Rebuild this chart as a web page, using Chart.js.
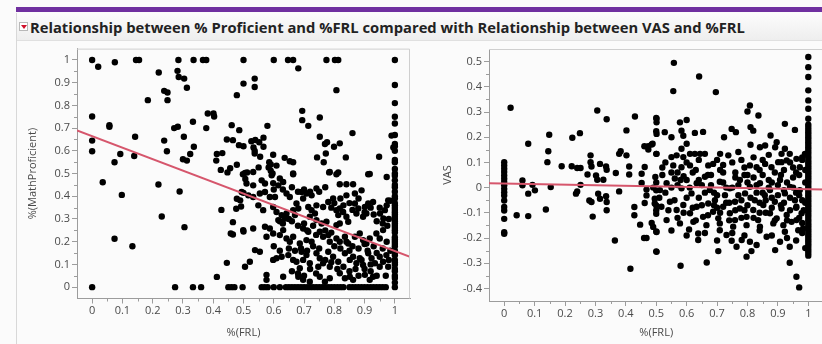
<!DOCTYPE html>
<html>
<head>
<meta charset="utf-8">
<script src="https://cdn.jsdelivr.net/npm/chart.js@4.4.1/dist/chart.umd.min.js"></script>
<style>
  html, body { margin:0; padding:0; background:#fbfbfb; width:822px; height:344px; overflow:hidden; position:relative; font-family:"Open Sans", sans-serif; }
  #purple { position:absolute; left:16px; top:7px; width:806px; height:5px; background:#7030a0; }
  #header { position:absolute; left:16px; top:13px; width:806px; height:27px; background:linear-gradient(#fcfcfc,#eeeeee); border-bottom:1px solid #e0e0e0; }
  #panelLine { position:absolute; left:16px; top:13px; width:1px; height:331px; background:#d8d8d8; }
  #icon { position:absolute; left:19px; top:22px; width:9px; height:9px; background:#fff; border:1px solid #b8b8b8; box-sizing:border-box; }
  #icon:after { content:""; position:absolute; left:1px; top:2px; border-left:3px solid transparent; border-right:3px solid transparent; border-top:4px solid #d0102a; }
  #title { position:absolute; left:30px; top:17px; white-space:nowrap; font-weight:bold; color:#222; font-family:"Open Sans", sans-serif; font-size:13px; line-height:20px; }
  canvas { position:absolute; }
  #c1 { left:15px; top:40px; }
  #c2 { left:430px; top:40px; }
</style>
</head>
<body>
<div id="purple"></div>
<div id="header"></div>
<div id="panelLine"></div>
<div id="icon"></div>
<div id="title"></div>
<canvas id="c1" width="400" height="304"></canvas>
<canvas id="c2" width="400" height="304"></canvas>
<script>
// ---------------- DATA ----------------
const chartTitle = "Relationship between % Proficient and %FRL compared with Relationship between VAS and %FRL";
const xTickValues = [0,0.1,0.2,0.3,0.4,0.5,0.6,0.7,0.8,0.9,1];
const mathTickValues = [0,0.1,0.2,0.3,0.4,0.5,0.6,0.7,0.8,0.9,1];
const vasTickValues = [-0.4,-0.3,-0.2,-0.1,0,0.1,0.2,0.3,0.4,0.5];

// Left panel: [%FRL, %MathProficient]
const mathSparse = [
[0.02,0.97],[0.075,0.99],[0.22,0.945],[0.282,0.952],[0.286,0.925],[0.304,0.918],[0.313,0.878],[0.238,0.864],[0.249,0.857],[0.249,0.823],[0.184,0.823],[0.5,0.896],[0.478,0.845],[0.537,0.918],[0.537,0.881],[0.681,0.963],[0.807,0.867],
[0,0.751],[0.057,0.713],[0.057,0.706],[0.382,0.764],[0.401,0.764],[0.403,0.751],[0.333,0.728],[0.377,0.70],[0.271,0.70],[0.283,0.706],[0.303,0.662],[0.142,0.662],[0.238,0.645],[0.247,0.598],[0.336,0.618],[0.324,0.586],[0.30,0.563],[0.313,0.557],
[0,0.645],[0,0.598],[0.093,0.586],[0.074,0.55],[0.139,0.577],
[0.461,0.713],[0.486,0.691],[0.445,0.65],[0.465,0.647],[0.485,0.625],[0.5,0.62],[0.412,0.586],[0.43,0.59],[0.41,0.557],[0.478,0.539],[0.425,0.516],[0.447,0.505],[0.456,0.523],[0.498,0.497],[0.506,0.476],
[0.035,0.462],[0.219,0.452],[0.098,0.406],[0.289,0.421],[0.5,0.415],[0.478,0.389],[0.489,0.382],[0.427,0.34],[0.476,0.345],[0.492,0.355],[0.23,0.311],[0.465,0.286],[0.5,0.245],[0.465,0.232],[0.458,0.236],[0.305,0.264],[0.074,0.213],[0.133,0.18],[0.445,0.107],[0.412,0.045],
[0.694,0.776],[0.694,0.735],[0.714,0.71],[0.752,0.747],[0.579,0.71],[0.86,0.678],[0.752,0.662],[0.769,0.63],[0.776,0.638],[0.799,0.618],[0.818,0.633],[0.989,0.667],[0.995,0.615]
];
const mathDense = [
[0.526,0.642],[0.539,0.648],[0.552,0.638],[0.566,0.658],[0.533,0.615],[0.537,0.6],[0.537,0.588],[0.566,0.618],[0.555,0.574],[0.598,0.583],[0.585,0.55],[0.59,0.54],[0.583,0.527],[0.59,0.512],[0.596,0.5],[0.609,0.535],[0.636,0.569],[0.653,0.554],[0.664,0.55],[0.55,0.527],[0.664,0.5],[0.743,0.571],[0.772,0.588],[0.765,0.55],[0.838,0.571],[0.948,0.574],[0.783,0.505],[0.813,0.505],[0.917,0.498],[0.512,0.505],
[0.505,0.503],[0.532,0.507],[0.593,0.492],[0.62,0.478],[0.664,0.497],[0.785,0.507],[0.807,0.497],[0.912,0.497],[0.973,0.485],
[0.598,0.458],[0.615,0.448],[0.631,0.463],[0.571,0.456],[0.818,0.453],[0.84,0.453],[0.862,0.453],[0.51,0.456],[0.532,0.448],
[0.494,0.419],[0.516,0.404],[0.532,0.397],[0.554,0.412],[0.571,0.419],[0.587,0.397],[0.604,0.397],[0.642,0.412],[0.653,0.397],[0.692,0.419],[0.708,0.412],[0.725,0.404],[0.697,0.39],[0.741,0.434],[0.78,0.375],[0.796,0.39],[0.763,0.353],[0.84,0.404],[0.868,0.412],[0.89,0.426],[0.912,0.368],[0.928,0.375],[0.901,0.353],[0.978,0.382],[0.973,0.36],
[0.598,0.353],[0.609,0.331],[0.626,0.317],[0.637,0.302],[0.642,0.324],[0.615,0.295],[0.664,0.339],[0.675,0.368],[0.681,0.346],[0.67,0.317],[0.714,0.353],[0.725,0.339],[0.741,0.36],[0.736,0.324],[0.719,0.31],[0.807,0.339],[0.818,0.346],[0.829,0.331],[0.813,0.317],[0.84,0.31],[0.868,0.368],[0.879,0.346],[0.873,0.324],[0.895,0.31],[0.906,0.324],[0.951,0.324],[0.967,0.339],[0.962,0.302],[0.565,0.339],[0.549,0.36],[0.499,0.251],[0.532,0.258],[0.741,0.295],[0.758,0.28],[0.774,0.288],[0.807,0.273],[0.818,0.28],[0.846,0.288],
[0.571,0.266],[0.587,0.258],[0.598,0.236],[0.576,0.222],[0.631,0.251],[0.62,0.229],[0.642,0.214],[0.664,0.222],[0.653,0.2],[0.697,0.258],[0.714,0.244],[0.708,0.207],[0.725,0.2],[0.686,0.192],[0.752,0.244],[0.763,0.222],[0.78,0.229],[0.785,0.2],[0.807,0.214],[0.818,0.2],[0.835,0.222],[0.846,0.192],[0.868,0.222],[0.884,0.236],[0.895,0.207],[0.906,0.192],[0.917,0.214],[0.939,0.236],[0.95,0.214],[0.961,0.251],[0.973,0.2],[0.538,0.163],
[0.554,0.156],[0.598,0.12],[0.609,0.127],[0.626,0.134],[0.648,0.141],[0.664,0.12],[0.675,0.112],[0.692,0.156],[0.708,0.141],[0.697,0.12],[0.719,0.105],[0.686,0.083],[0.741,0.149],[0.752,0.127],[0.763,0.105],[0.747,0.09],[0.78,0.156],[0.796,0.134],[0.813,0.112],[0.785,0.09],[0.835,0.149],[0.851,0.12],[0.862,0.134],[0.873,0.105],[0.884,0.127],[0.895,0.098],[0.912,0.149],[0.923,0.127],[0.934,0.105],[0.95,0.134],[0.961,0.112],[0.972,0.141],[0.978,0.09],[0.521,0.112],[0.505,0.09],
[0.576,0.054],[0.576,0.032],[0.681,0.046],[0.697,0.032],[0.719,0.024],[0.752,0.046],[0.769,0.024],[0.785,0.039],[0.818,0.061],[0.835,0.039],[0.851,0.046],[0.862,0.032],[0.901,0.054],[0.917,0.032],[0.928,0.046],[0.631,0.046],
[0.985,0.38],[0.98,0.3],[0.975,0.27],[0.985,0.16],[0.98,0.12],[0.97,0.05]
];
const mathDenseExtra = [
[0.56,0.47],[0.6,0.43],[0.63,0.43],[0.66,0.44],[0.68,0.42],[0.7,0.43],[0.72,0.42],[0.75,0.42],[0.77,0.44],[0.79,0.35],[0.8,0.37],[0.82,0.39],[0.83,0.36],[0.85,0.37],[0.86,0.34],[0.88,0.39],[0.9,0.33],[0.92,0.35],[0.93,0.32],[0.94,0.29],[0.95,0.35],[0.96,0.28],
[0.62,0.29],[0.63,0.28],[0.65,0.3],[0.66,0.29],[0.68,0.27],[0.7,0.28],[0.71,0.25],[0.73,0.27],[0.74,0.23],[0.77,0.25],[0.79,0.24],[0.8,0.18],[0.82,0.17],[0.84,0.2],[0.85,0.16],[0.86,0.18],[0.88,0.17],[0.89,0.12],[0.9,0.19],[0.91,0.16],[0.92,0.1],[0.93,0.18],[0.94,0.15],[0.95,0.09],[0.96,0.17],
[0.6,0.18],[0.62,0.16],[0.65,0.17],[0.67,0.16],[0.69,0.17],[0.71,0.16],[0.73,0.18],[0.75,0.17],[0.77,0.12],[0.79,0.11],[0.81,0.08],[0.83,0.09],[0.85,0.07],[0.87,0.08],[0.88,0.05],[0.9,0.08],[0.92,0.07],[0.94,0.05],[0.72,0.08],[0.74,0.06],[0.66,0.07],[0.68,0.06],[0.7,0.05]
];
// %FRL values of schools with 0 % proficient, and with 100 % proficient
const frlAtZeroProficient = [0,0.274,0.333,0.36,0.45,0.46,0.47,0.497,0.56,0.57,0.58,0.6,0.62,0.64,0.65,0.66,0.67,0.68,0.69,0.7,0.71,0.72,0.73,0.74,0.75,0.76,0.77,0.78,0.79,0.8,0.81,0.82,0.83,0.85,0.86,0.87,0.88,0.89,0.9,0.91,0.92,0.93,0.94,0.95,0.96,0.97,1];
const frlAtFullProficient = [0,0.145,0.155,0.285,0.335,0.366,0.377,0.5,0.6,0.647,0.664,0.774,0.802,0.813,1];
// %MathProficient of schools with %FRL = 1
const mathAtFrl1 = [0.02,0.04,0.05,0.07,0.08,0.1,0.11,0.12,0.14,0.15,0.16,0.18,0.19,0.2,0.21,0.22,0.24,0.25,0.26,0.27,0.28,0.29,0.3,0.31,0.32,0.33,0.34,0.35,0.36,0.37,0.39,0.4,0.42,0.44,0.45,0.47,0.49,0.5,0.52,0.55,0.56,0.6,0.62,0.63,0.67,0.72,0.75,0.81,0.89];
const mathFit = [[-0.05,0.69],[1.05,0.134]];

// Right panel: [%FRL, VAS]
const vasAtFrl0 = [0.101,0.088,0.075,0.062,0.048,0.035,0.022,0.009,-0.005,-0.018,-0.031,-0.051,-0.077,-0.091,-0.124,-0.177,-0.183];
const vasAtFrl1 = [0.518,0.478,0.439,0.386,0.346,0.313,0.273,0.25,0.24,0.23,0.22,0.21,0.2,0.19,0.18,0.17,0.16,0.15,0.14,0.13,0.12,0.11,0.1,0.09,0.08,0.07,0.06,0.05,0.04,0.03,0.02,0.01,0,-0.01,-0.02,-0.03,-0.04,-0.05,-0.06,-0.07,-0.08,-0.09,-0.1,-0.11,-0.12,-0.13,-0.14,-0.15,-0.16,-0.17,-0.18,-0.19,-0.2,-0.21,-0.22,-0.23,-0.24,-0.25,-0.26,-0.27];
const vasLeft = [
[0.021,0.317],[0.079,0.174],[0.148,0.21],[0.145,0.144],[0.142,0.101],[0.189,0.085],[0.224,0.198],[0.249,0.216],[0.222,0.085],[0.24,0.078],[0.251,0.078],[0.306,0.306],[0.337,0.271],[0.284,0.128],[0.284,0.101],[0.287,0.084],[0.315,0.094],[0.335,0.084],[0.337,0.071],[0.274,0.052],[0.302,0.048],[0.306,0.031],[0.326,0.031],[0.367,0.058],[0.378,0.134],[0.383,0.144],[0.402,0.128],[0.402,0.227],[0.43,0.282],[0.411,0.084],[0.411,0.052],[0.06,0.028],[0.06,0.009],[0.093,0.011],[0.101,-0.011],[0.079,-0.024],[0.153,0.002],[0.251,0.011],[0.236,-0.024],[0.24,-0.015],[0.041,-0.11],[0.079,-0.113],[0.137,-0.087],[0.28,-0.051],[0.287,-0.057],[0.309,-0.024],[0.315,-0.044],[0.335,-0.034],[0.337,-0.057],[0.337,-0.09],[0.291,-0.115],[0.378,-0.015],[0.364,-0.21],[0.415,-0.322],[0.428,-0.077],[0.428,-0.11],[0.447,-0.147],[0.46,-0.2],[0.468,-0.2],[0.452,0.018],[0.468,-0.008],[0.468,-0.031],[0.462,-0.061],[0.452,0.055],[0.462,0.082],[0.461,0.164],[0.474,0.164],[0.485,0.171],[0.474,0.151],[0.5,0.276],[0.5,0.224],[0.5,0.134],[0.497,0.042],[0.5,-0.011],[0.495,-0.044],[0.5,-0.071],[0.5,-0.09],[0.5,-0.104],[0.485,-0.14],[0.5,-0.174],[0.5,-0.253]
];
const vasUpper = [
[0.558,0.495],[0.556,0.383],[0.641,0.441],[0.696,0.379],[0.808,0.326],[0.8,0.302],[0.836,0.286],[0.923,0.253],[0.956,0.229],[0.501,0.273],[0.501,0.259],[0.578,0.259],[0.6,0.268],[0.528,0.22],[0.501,0.213],[0.55,0.2],[0.583,0.226],[0.589,0.206],[0.627,0.217],[0.654,0.221],[0.723,0.2],[0.748,0.233],[0.762,0.22],[0.81,0.24],[0.819,0.226],[0.876,0.207],[0.81,0.17],[0.841,0.16],[0.858,0.167],[0.896,0.18],[0.891,0.16],[0.923,0.154],[0.912,0.134],[0.939,0.134],[0.961,0.114],[0.929,0.108],[0.912,0.101],[0.488,0.174],[0.501,0.134],[0.55,0.121],[0.567,0.128],[0.583,0.154],[0.6,0.174],[0.589,0.121],[0.611,0.134],[0.627,0.134],[0.644,0.134],[0.66,0.134],[0.71,0.134],[0.737,0.128],[0.77,0.141],[0.556,0.088],[0.583,0.081],[0.611,0.088],[0.671,0.088],[0.687,0.094],[0.808,0.088],[0.83,0.081],[0.858,0.094],[0.879,0.081],[0.901,0.101],[0.972,0.081],[0.989,0.134],
[0.53,0.1],[0.6,0.1],[0.64,0.11],[0.7,0.11],[0.72,0.09],[0.75,0.1],[0.78,0.11],[0.79,0.08],[0.82,0.12],[0.85,0.11],[0.87,0.13],[0.94,0.1],[0.95,0.08],[0.98,0.12]
];
const vasMiddle = [
[0.512,-0.01],[0.534,0.017],[0.561,0.036],[0.583,-0.003],[0.6,0.03],[0.616,-0.023],[0.633,0.017],[0.66,0.043],[0.676,-0.01],[0.693,-0.05],[0.709,0.023],[0.726,-0.03],[0.742,-0.003],[0.759,-0.056],[0.775,0.03],[0.792,-0.023],[0.808,0.003],[0.824,-0.05],[0.841,0.017],[0.857,-0.03],[0.874,-0.01],[0.89,-0.056],[0.907,0.03],[0.923,-0.023],[0.94,0.003],[0.956,-0.05],[0.972,-0.01],
[0.495,-0.063],[0.517,-0.076],[0.545,-0.056],[0.567,-0.089],[0.589,-0.069],[0.611,-0.102],[0.633,-0.076],[0.654,-0.116],[0.671,-0.063],[0.687,-0.096],[0.704,-0.122],[0.72,-0.076],[0.742,-0.102],[0.759,-0.129],[0.775,-0.083],[0.797,-0.116],[0.819,-0.089],[0.835,-0.129],[0.852,-0.069],[0.874,-0.102],[0.896,-0.122],[0.912,-0.083],[0.929,-0.109],[0.945,-0.136],[0.961,-0.076],[0.978,-0.102],
[0.534,-0.129],[0.578,-0.142],[0.622,-0.136],[0.665,-0.149],[0.709,-0.142],[0.753,-0.155],[0.797,-0.149],[0.841,-0.155],[0.885,-0.142],[0.918,-0.149],
[0.52,0.05],[0.55,0.06],[0.57,0.01],[0.59,0.045],[0.62,0.06],[0.64,-0.04],[0.65,0.01],[0.68,0.05],[0.69,-0.02],[0.7,-0.08],[0.72,0.06],[0.73,0.0],[0.74,-0.06],[0.76,0.04],[0.77,-0.03],[0.78,-0.12],[0.79,0.05],[0.8,-0.07],[0.82,0.04],[0.83,-0.02],[0.84,-0.1],[0.85,0.05],[0.86,-0.05],[0.87,0.03],[0.88,-0.08],[0.89,0.06],[0.9,-0.03],[0.91,0.05],[0.92,-0.06],[0.93,0.02],[0.94,-0.09],[0.95,0.04],[0.96,-0.02],[0.97,0.05],[0.98,-0.05],[0.99,0.02],[0.985,-0.09],[0.99,0.07],[0.98,0.11],[0.97,-0.12]
];
const vasMiddleExtra = [
[0.49,0.0],[0.5,0.02],[0.51,-0.04],[0.53,-0.02],[0.54,-0.09],[0.55,0.0],[0.56,-0.05],[0.57,-0.12],[0.58,0.03],[0.59,-0.1],[0.6,-0.04],[0.61,0.0],[0.62,-0.08],[0.63,-0.13],[0.64,0.03],[0.65,-0.07],[0.66,-0.02],[0.67,-0.11],[0.68,0.01],[0.69,-0.07],[0.7,-0.03],[0.71,-0.1],[0.72,0.02],[0.73,-0.06],[0.74,-0.13],[0.75,0.0],[0.76,-0.09],[0.77,0.01],[0.78,-0.05],[0.79,-0.09],[0.8,0.02],[0.81,-0.04],[0.82,-0.12],[0.83,0.01],[0.84,-0.06],[0.85,-0.02],[0.86,-0.1],[0.87,0.0],[0.88,-0.04],[0.89,-0.13],[0.9,0.01],[0.91,-0.07],[0.92,-0.01],[0.93,-0.13],[0.94,-0.04],[0.95,0.0],[0.96,-0.08],[0.97,-0.03],[0.98,-0.14],[0.99,-0.06],
[0.52,0.08],[0.57,0.06],[0.63,0.07],[0.67,0.05],[0.71,0.07],[0.76,0.06],[0.8,0.05],[0.84,0.07],[0.88,0.02],[0.92,0.07],[0.96,0.06],
[0.55,-0.17],[0.6,-0.19],[0.66,-0.18],[0.7,-0.21],[0.75,-0.18],[0.79,-0.19],[0.84,-0.17],[0.88,-0.19],[0.93,-0.2],[0.96,-0.21],[0.98,-0.18],[0.99,-0.24]
];
const vasLower = [
[0.501,-0.255],[0.58,-0.31],[0.666,-0.297],[0.704,-0.252],[0.608,-0.166],[0.638,-0.182],[0.638,-0.208],[0.748,-0.211],[0.764,-0.235],[0.781,-0.208],[0.797,-0.274],[0.813,-0.252],[0.808,-0.215],[0.83,-0.228],[0.731,-0.188],[0.709,-0.169],[0.863,-0.195],[0.891,-0.248],[0.907,-0.215],[0.923,-0.175],[0.939,-0.235],[0.939,-0.298],[0.961,-0.354],[0.97,-0.396],[0.49,-0.156],[0.501,-0.176],[0.961,-0.129],[0.967,-0.169],[0.983,-0.162]
];
const vasFit = [[-0.05,0.017],[1.05,-0.008]];

// ---------------- BUILD ----------------
document.getElementById('title').textContent = chartTitle;
(function fitTitle(){
  const el = document.getElementById('title');
  const w = el.getBoundingClientRect().width;
  el.style.fontSize = (13 * 715 / w).toFixed(2) + 'px';
})();

const toXY = arr => arr.map(p => ({x:p[0], y:p[1]}));
const mathPoints = [].concat(
  toXY(mathSparse), toXY(mathDense), toXY(mathDenseExtra),
  frlAtZeroProficient.map(x => ({x, y:0})),
  frlAtFullProficient.map(x => ({x, y:1})),
  mathAtFrl1.map(y => ({x:1, y}))
);
const vasPoints = [].concat(
  vasAtFrl0.map(y => ({x:0, y})),
  vasAtFrl1.map(y => ({x:1, y})),
  toXY(vasLeft), toXY(vasUpper), toXY(vasMiddle), toXY(vasMiddleExtra), toXY(vasLower)
);

const TICK_FONT = {family:'"Open Sans", sans-serif', size:11};
const TICK_COLOR = '#4a4a4a';
const AXIS_COLOR = '#9c9c9c';

const framePlugin = {
  id:'frame',
  afterDraw(chart){
    const {ctx, chartArea:a, scales} = chart;
    ctx.save();
    ctx.strokeStyle = '#cfcfcf';
    ctx.lineWidth = 1;
    ctx.beginPath();
    ctx.moveTo(a.left, a.top + 0.5); ctx.lineTo(a.right - 0.5, a.top + 0.5); ctx.lineTo(a.right - 0.5, a.bottom);
    ctx.stroke();
    ctx.strokeStyle = AXIS_COLOR;
    const xs = scales.x, ys = scales.y;
    const xt = xs.ticks.map(t => t.value);
    for (let i = 0; i < xt.length - 1; i++) {
      const m = xs.getPixelForValue((xt[i] + xt[i+1]) / 2);
      ctx.beginPath(); ctx.moveTo(Math.round(m)+0.5, a.bottom); ctx.lineTo(Math.round(m)+0.5, a.bottom + 3); ctx.stroke();
    }
    const yt = ys.ticks.map(t => t.value);
    for (let i = 0; i < yt.length - 1; i++) {
      const m = ys.getPixelForValue((yt[i] + yt[i+1]) / 2);
      ctx.beginPath(); ctx.moveTo(a.left, Math.round(m)+0.5); ctx.lineTo(a.left - 3, Math.round(m)+0.5); ctx.stroke();
    }
    ctx.restore();
  }
};

function makeChart(id, points, fit, yMin, yMax, yTicks, yTitle, pad, yWidth, xHeight){
  return new Chart(document.getElementById(id), {
    type:'scatter',
    data:{ datasets:[
      { type:'line', data: toXY(fit), borderColor:'#d6566c', borderWidth:2, pointRadius:0, fill:false, tension:0 },
      { data: points, backgroundColor:'#000', borderWidth:0, pointRadius:3.2, pointHoverRadius:3.2 }
    ]},
    options:{
      responsive:false, animation:false, devicePixelRatio:1,
      layout:{ padding: pad },
      plugins:{ legend:{display:false}, tooltip:{enabled:false} },
      events:[],
      scales:{
        x:{
          type:'linear', min:-0.05, max:1.05,
          afterBuildTicks: s => { s.ticks = xTickValues.map(v => ({value:v})); },
          afterFit: s => { s.height = xHeight; },
          ticks:{ font:TICK_FONT, color:TICK_COLOR, padding:1, maxRotation:0, autoSkip:false, callback: v => String(v) },
          grid:{ drawOnChartArea:false, drawTicks:true, tickLength:5, color:AXIS_COLOR },
          border:{ display:true, color:AXIS_COLOR },
          title:{ display:true, text:'%(FRL)', font:TICK_FONT, color:TICK_COLOR, padding:{top:0, bottom:5} }
        },
        y:{
          type:'linear', min:yMin, max:yMax,
          afterBuildTicks: s => { s.ticks = yTicks.map(v => ({value:v})); },
          afterFit: s => { s.width = yWidth; },
          ticks:{ font:TICK_FONT, color:TICK_COLOR, padding:2, autoSkip:false, callback: v => String(v) },
          grid:{ drawOnChartArea:false, drawTicks:true, tickLength:5, color:AXIS_COLOR },
          border:{ display:true, color:AXIS_COLOR },
          title:{ display:true, text:yTitle, font:TICK_FONT, color:TICK_COLOR, padding:{top:11, bottom:0} }
        }
      }
    },
    plugins:[framePlugin]
  });
}

makeChart('c1', mathPoints, mathFit, -0.05, 1.05, mathTickValues, '%(MathProficient)', {left:0, right:5, top:8, bottom:0}, 62, 45.5);
makeChart('c2', vasPoints, vasFit, -0.45, 0.55, vasTickValues, 'VAS', {left:0, right:6.5, top:9, bottom:0}, 59, 43);
</script>
</body>
</html>
